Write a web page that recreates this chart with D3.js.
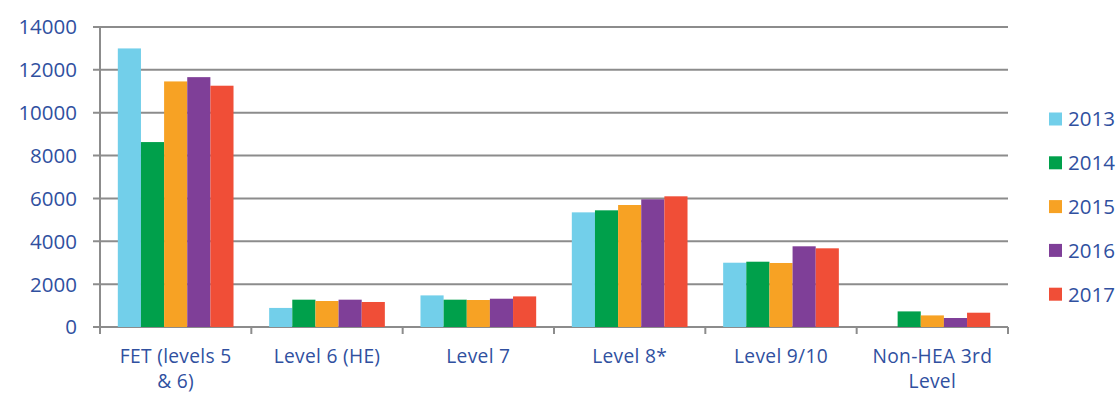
<!DOCTYPE html>
<html>
<head>
<meta charset="utf-8">
<script src="https://cdn.jsdelivr.net/npm/d3@7"></script>
<style>
  html, body { margin: 0; padding: 0; background: #fff; }
  svg { display: block; }
  text { font-family: "Open Sans", Lato, sans-serif; fill: #30509f; }
</style>
</head>
<body>
<svg id="chart" width="1120" height="394"></svg>
<script>
// Categories (line breaks marked with \n), series and values
const categories = ["FET (levels 5\n& 6)", "Level 6 (HE)", "Level 7", "Level 8*", "Level 9/10", "Non-HEA 3rd\nLevel"];
const years = ["2013", "2014", "2015", "2016", "2017"];
const colors = ["#72cfea", "#00a04b", "#f7a224", "#7f3f98", "#f04e37"];
const values2013 = [13000, 890, 1475, 5350, 3000, 0];
const values2014 = [8630, 1275, 1275, 5445, 3047, 728];
const values2015 = [11460, 1213, 1260, 5693, 2987, 541];
const values2016 = [11660, 1275, 1320, 5958, 3766, 420];
const values2017 = [11260, 1167, 1428, 6099, 3672, 667];
const yTicks = [0, 2000, 4000, 6000, 8000, 10000, 12000, 14000];

const series = [values2013, values2014, values2015, values2016, values2017];

const svg = d3.select("#chart");
const margin = { left: 100, right: 112, top: 27, bottom: 67 };
const width = 1120, height = 394;
const fontSize = 20.5;
const labelSize = 19.2;

const x0 = d3.scaleBand().domain(categories)
  .range([margin.left, width - margin.right]).paddingInner(0).paddingOuter(0);
const x1 = d3.scaleBand().domain(years)
  .range([0, x0.bandwidth()]).paddingInner(0).paddingOuter(0.77);
const y = d3.scaleLinear().domain([0, 14000]).range([height - margin.bottom, margin.top]);

const gridColor = "#8c8c8c";

// Horizontal gridlines with short left ticks
svg.append("g").selectAll("line").data(yTicks).join("line")
  .attr("x1", margin.left - 7).attr("x2", width - margin.right)
  .attr("y1", d => y(d)).attr("y2", d => y(d))
  .attr("stroke", gridColor).attr("stroke-width", 2);

// Y tick labels
svg.append("g").selectAll("text").data(yTicks).join("text")
  .attr("x", 77).attr("y", d => y(d)).attr("dy", "0.36em")
  .attr("text-anchor", "end").attr("font-size", fontSize)
  .text(d => d);

// Vertical axis line
svg.append("line")
  .attr("x1", margin.left).attr("x2", margin.left)
  .attr("y1", y(14000)).attr("y2", y(0) + 7)
  .attr("stroke", gridColor).attr("stroke-width", 2);

// Category separator ticks on x axis
const sepX = categories.map(c => x0(c)).concat([width - margin.right]);
svg.append("g").selectAll("line").data(sepX.slice(1)).join("line")
  .attr("x1", d => d).attr("x2", d => d)
  .attr("y1", y(0)).attr("y2", y(0) + 7)
  .attr("stroke", gridColor).attr("stroke-width", 2);

// Bars
const groups = svg.append("g").selectAll("g").data(categories).join("g")
  .attr("transform", c => `translate(${x0(c)},0)`);
groups.selectAll("rect")
  .data((c, i) => years.map((yr, j) => ({ yr, j, v: series[j][i] })))
  .join("rect")
  .attr("x", d => x1(d.yr))
  .attr("width", x1.bandwidth())
  .attr("y", d => y(d.v))
  .attr("height", d => y(0) - y(d.v))
  .attr("fill", d => colors[d.j]);

// Category labels, one tspan per line
svg.append("g").selectAll("text").data(categories).join("text")
  .attr("x", c => x0(c) + x0.bandwidth() / 2)
  .attr("y", 363)
  .attr("text-anchor", "middle").attr("font-size", labelSize)
  .attr("letter-spacing", 0.3)
  .each(function (c) {
    const t = d3.select(this);
    c.split("\n").forEach((line, k) => {
      t.append("tspan").attr("x", t.attr("x")).attr("dy", k ? 25.2 : 0).text(line);
    });
  });

// Legend
const legend = svg.append("g").selectAll("g").data(years).join("g")
  .attr("transform", (d, i) => `translate(1049,${119 + i * 43.8})`);
legend.append("rect").attr("x", 0).attr("y", -6.5).attr("width", 13).attr("height", 13)
  .attr("fill", (d, i) => colors[i]);
legend.append("text").attr("x", 19).attr("y", 0).attr("dy", "0.36em")
  .attr("font-size", fontSize).text(d => d);
</script>
</body>
</html>
